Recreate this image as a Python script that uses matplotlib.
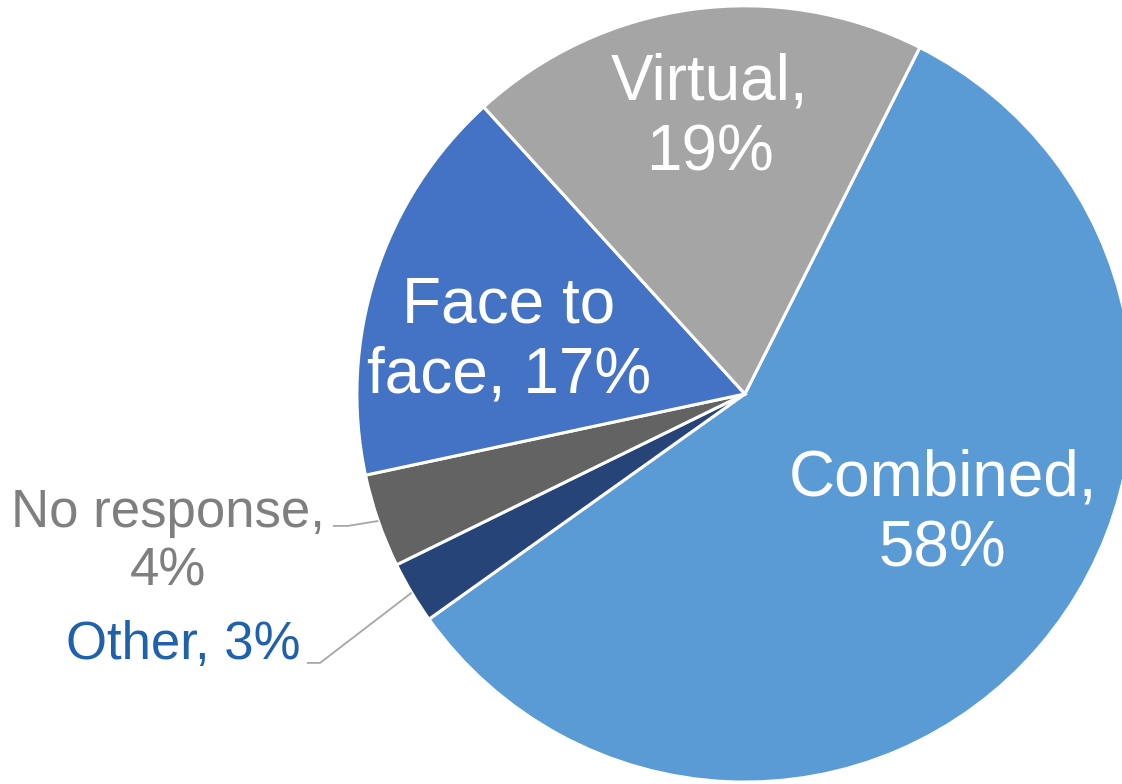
import numpy as np
import matplotlib
matplotlib.use("Agg")
import matplotlib.pyplot as plt

categories = ["Combined", "Other", "No response", "Face to\nface", "Virtual"]
values = [57.7, 2.6, 3.9, 16.6, 19.2]
colors = ["#5B9BD5", "#264478", "#636363", "#4472C4", "#A5A5A5"]

plt.rcParams['font.family'] = ['Liberation Sans', 'DejaVu Sans']

fig = plt.figure(figsize=(11.22, 7.84), dpi=100)
ax = fig.add_axes([0, 0, 1, 1])

wedges, _ = ax.pie(values, colors=colors, startangle=63.2, counterclock=False,
                   radius=1.0, center=(0, 0),
                   wedgeprops=dict(edgecolor="white", linewidth=2.2))

ax.set_xlim(-1.920, 0.972)
ax.set_ylim(-1.005, 1.015)
ax.set_aspect('auto')
ax.axis('off')

labels = []
for cat, v in zip(categories, values):
    pct = f"{round(v):d}%"
    labels.append((cat, pct))

# label layout (axes data units, pie radius = 1)
inside_pos = {"Combined": (0.510, -0.309), "Virtual": (-0.090, 0.711), "Face to\nface": (-0.608, 0.137)}
inside_text = {"Combined": "Combined,\n{p}", "Virtual": "Virtual,\n{p}", "Face to\nface": "Face to\nface, {p}"}

for (cat, pct), w in zip(labels, wedges):
    if cat in inside_pos:
        x, y = inside_pos[cat]
        ax.text(x, y, inside_text[cat].format(p=pct), ha='center', va='center',
                fontsize=46, color='white', linespacing=1.22)

def edge_point(w):
    mid = np.deg2rad((w.theta1 + w.theta2) / 2)
    return np.cos(mid), np.sin(mid)

# No response
w_nr = wedges[categories.index("No response")]
ex, ey = edge_point(w_nr)
ax.plot([-1.062, -1.023, ex], [-0.340, -0.340, ey], color="#A6A6A6", lw=1.3, solid_capstyle='butt')
ax.text(-1.487, -0.381, f"No response,\n{labels[2][1]}", ha='center', va='center',
        fontsize=38, color="#7F7F7F", linespacing=1.22)

# Other
w_ot = wedges[categories.index("Other")]
ex, ey = edge_point(w_ot)
ax.plot([-1.129, -1.095, ex], [-0.693, -0.693, ey], color="#A6A6A6", lw=1.3, solid_capstyle='butt')
ax.text(-1.448, -0.647, f"Other, {labels[1][1]}", ha='center', va='center',
        fontsize=38, color="#1F62AB")

fig.savefig("out.png", dpi=100)
